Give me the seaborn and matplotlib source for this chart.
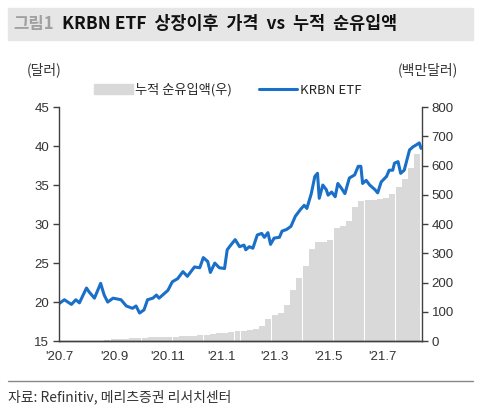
import pandas as pd
import matplotlib.pyplot as plt
import matplotlib.patches as mpatches
from matplotlib.lines import Line2D
import seaborn as sns

# KRBN ETF price (USD)
price_dates = ['2020-07-01', '2020-07-07', '2020-07-15', '2020-07-20', '2020-07-24', '2020-08-01',
               '2020-08-04', '2020-08-10', '2020-08-17', '2020-08-21', '2020-08-25', '2020-08-31',
               '2020-09-09', '2020-09-15', '2020-09-22', '2020-09-26', '2020-09-30', '2020-10-05',
               '2020-10-09', '2020-10-15', '2020-10-19', '2020-10-22', '2020-11-01', '2020-11-06',
               '2020-11-12', '2020-11-18', '2020-11-23', '2020-12-01', '2020-12-07', '2020-12-11',
               '2020-12-16', '2020-12-19', '2020-12-24', '2020-12-29', '2021-01-04', '2021-01-07',
               '2021-01-11', '2021-01-16', '2021-01-21', '2021-01-26', '2021-01-28', '2021-02-01',
               '2021-02-05', '2021-02-10', '2021-02-15', '2021-02-18', '2021-02-22', '2021-02-25',
               '2021-03-01', '2021-03-07', '2021-03-10', '2021-03-15', '2021-03-20', '2021-03-25',
               '2021-03-31', '2021-04-04', '2021-04-07', '2021-04-12', '2021-04-16', '2021-04-19',
               '2021-04-21', '2021-04-25', '2021-04-29', '2021-05-01', '2021-05-05', '2021-05-09',
               '2021-05-12', '2021-05-16', '2021-05-20', '2021-05-25', '2021-05-31', '2021-06-04',
               '2021-06-07', '2021-06-09', '2021-06-13', '2021-06-17', '2021-06-23', '2021-06-26',
               '2021-06-30', '2021-07-06', '2021-07-09', '2021-07-13', '2021-07-15', '2021-07-19',
               '2021-07-22', '2021-07-26', '2021-08-01', '2021-08-05', '2021-08-08', '2021-08-12',
               '2021-08-14']
price_values = [19.8, 20.3, 19.7, 20.3, 19.9, 21.8,
                21.3, 20.5, 22.4, 20.9, 20.0, 20.5,
                20.3, 19.5, 19.2, 19.5, 18.6, 19.0,
                20.3, 20.5, 20.9, 20.5, 21.5, 22.6,
                23.0, 23.9, 23.3, 24.5, 24.4, 25.7,
                25.2, 23.8, 25.0, 24.4, 24.3, 26.7,
                27.3, 28.0, 27.1, 27.3, 26.7, 27.1,
                26.9, 28.6, 28.8, 28.3, 28.9, 27.4,
                28.2, 28.3, 29.1, 29.3, 29.7, 31.0,
                31.9, 32.4, 32.0, 33.9, 36.1, 36.5,
                33.3, 35.0, 34.4, 33.7, 34.1, 33.5,
                35.2, 34.6, 33.9, 35.9, 36.3, 37.4,
                37.4, 35.2, 35.6, 35.0, 34.4, 34.0,
                35.4, 36.1, 36.9, 36.9, 37.8, 38.0,
                36.5, 36.9, 39.5, 39.9, 40.1, 40.4,
                39.7]

# cumulative net inflow (USD mn), weekly, week ending on Friday
flow_start = '2020-08-28'
flow_values = [5, 6, 7, 8, 9, 10, 12, 13, 13, 14,
               14, 15, 16, 17, 18, 20, 21, 24, 26, 28,
               30, 33, 35, 37, 42, 52, 75, 88, 96, 125,
               175, 215, 258, 315, 338, 340, 345, 385, 393, 410,
               458, 480, 482, 482, 484, 490, 503, 527, 555, 590,
               640]

tick_dates = ['2020-07-01', '2020-09-01', '2020-11-01', '2021-01-01', '2021-03-01', '2021-05-01', '2021-07-01']
tick_labels = ["'20.7", "'20.9", "'20.11", "'21.1", "'21.3", "'21.5", "'21.7"]

line_color = '#1a6fc8'
bar_color = '#d9d9d9'
axis_color = '#404040'

sns.set_theme(style='white')
plt.rcParams['font.family'] = ['Noto Sans CJK KR', 'DejaVu Sans']

df_price = pd.DataFrame({'date': pd.to_datetime(price_dates), 'price': price_values})
df_flow = pd.DataFrame({'date': pd.date_range(flow_start, periods=len(flow_values), freq='7D'),
                        'flow': flow_values})

fig = plt.figure(figsize=(4.8, 4.18), dpi=100)
ax = fig.add_axes([0.123, 0.184, 0.756, 0.560])
ax2 = ax.twinx()

# bars on the right axis, behind the price line
ax2.bar(df_flow['date'], df_flow['flow'], width=-6.75, align='edge', color=bar_color, linewidth=0)
sns.lineplot(data=df_price, x='date', y='price', ax=ax, color=line_color, linewidth=2.2)
ax.set_zorder(ax2.get_zorder() + 1)
ax.patch.set_visible(False)

ax.set_xlim(pd.Timestamp('2020-07-01'), pd.Timestamp('2021-08-15'))
ax.set_ylim(15, 45)
ax2.set_ylim(0, 800)
ax.set_yticks(range(15, 46, 5))
ax2.set_yticks(range(0, 801, 100))
ax.set_xticks(pd.to_datetime(tick_dates))
ax.set_xticklabels(tick_labels)
ax.set_xlabel('')
ax.set_ylabel('')

for a in (ax, ax2):
    a.spines['top'].set_visible(False)
    for s in ('left', 'right', 'bottom'):
        a.spines[s].set_color(axis_color)
        a.spines[s].set_linewidth(1.0)
    a.tick_params(axis='both', direction='out', length=4, width=1, color=axis_color,
                  labelsize=9.5, labelcolor='#333333', pad=3)
    for lab in a.get_xticklabels() + a.get_yticklabels():
        lab.set_fontfamily('Liberation Sans')
ax.tick_params(axis='y', right=False)
ax2.tick_params(axis='y', left=False)
ax2.spines['left'].set_visible(False)
ax.spines['right'].set_visible(False)

handles = [mpatches.Patch(color=bar_color, label='누적 순유입액(우)'),
           Line2D([0], [0], color=line_color, linewidth=2.2, label='KRBN ETF')]
ax.legend(handles=handles, loc='center', bbox_to_anchor=(0.465, 1.073), ncol=2, frameon=False,
          fontsize=9.5, handlelength=2.9, handleheight=0.7, handletextpad=0.2, columnspacing=2.0,
          borderaxespad=0)

# title banner
fig.patches.append(mpatches.Rectangle((0.017, 0.904), 0.968, 0.077, transform=fig.transFigure,
                                      color='#e6e6e6', zorder=0))
fig.text(0.027, 0.943, '그림1', fontsize=12, fontweight='bold', color='#a0a0a0', va='center')
fig.text(0.129, 0.943, 'KRBN ETF  상장이후  가격  vs  누적  순유입액', fontsize=12.5, fontweight='bold',
         color='#111111', va='center')

fig.text(0.056, 0.832, '(달러)', fontsize=10, color='#333333', va='center')
fig.text(0.955, 0.832, '(백만달러)', fontsize=10, color='#333333', va='center', ha='right')

fig.add_artist(Line2D([0.017, 0.985], [0.0885, 0.0885], transform=fig.transFigure, color='#888888',
                      linewidth=1.0))
fig.text(0.017, 0.05, '자료: Refinitiv, 메리츠증권 리서치센터', fontsize=10, color='#333333', va='center')

fig.savefig('out.png', dpi=100)
